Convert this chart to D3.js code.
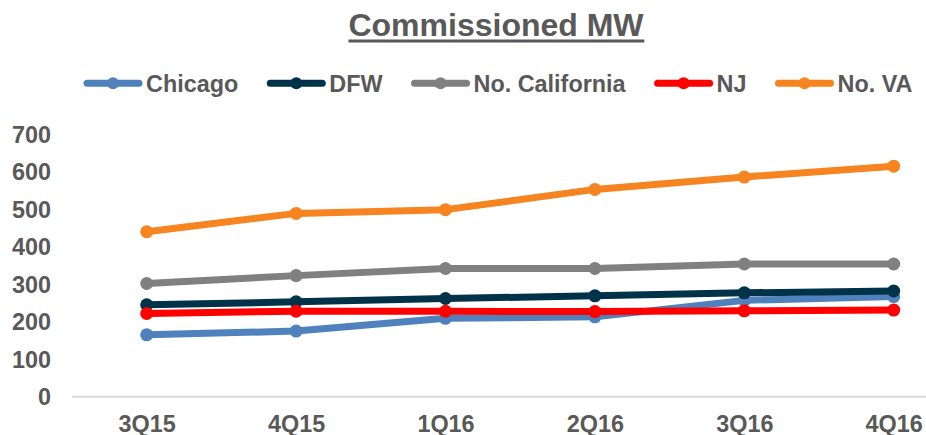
<!DOCTYPE html>
<html>
<head>
<meta charset="utf-8">
<script src="https://cdn.jsdelivr.net/npm/d3@7/dist/d3.min.js"></script>
<style>
  html, body { margin: 0; padding: 0; background: #fff; }
  svg { display: block; font-family: Arial, "Liberation Sans", sans-serif; }
</style>
</head>
<body>
<svg id="main-svg" width="926" height="435"></svg>
<script>
(function() {

    // quarters on the x axis
    var quarters = ["3Q15", "4Q15", "1Q16", "2Q16", "3Q16", "4Q16"];

    // y axis ticks
    var yTicks = [0, 100, 200, 300, 400, 500, 600, 700];

    // series values, MW
    var chicago = [165, 175, 209, 213, 257, 267];
    var dfw     = [245, 253, 262, 269, 277, 282];
    var noCal   = [302, 323, 342, 342, 354, 354];
    var nj      = [222, 228, 228, 227, 229, 231];
    var noVa    = [440, 489, 499, 553, 586, 615];

    var seriesNames = ["Chicago", "DFW", "No. California", "NJ", "No. VA"];
    var seriesColors = ["#4f81bd", "#003349", "#808080", "#ff0000", "#f68420"];
    var seriesValues = [chicago, dfw, noCal, nj, noVa];

    var series = seriesNames.map(function(name, i) {
        return { name: name, color: seriesColors[i], values: seriesValues[i] };
    });

    var textColor = "#595959";
    var fontSize = 23.4;
    var svg = d3.select("#main-svg");

    // title
    var title = svg.append("text")
    .attr("x", 496)
    .attr("y", 36)
    .attr("text-anchor", "middle")
    .attr("font-size", 32)
    .attr("font-weight", "bold")
    .attr("fill", textColor)
    .text("Commissioned MW");

    var tb = title.node().getBBox();
    svg.append("rect")
    .attr("x", tb.x)
    .attr("y", 39.5)
    .attr("width", tb.width)
    .attr("height", 3)
    .attr("fill", textColor);

    // scales
    var x = d3.scalePoint()
    .domain(quarters)
    .range([146.7, 893.7]);

    var y = d3.scaleLinear()
    .domain([0, 700])
    .range([396.7, 134.3]);

    // y axis labels
    var yAxis = d3.axisLeft(y).tickValues(yTicks).tickSize(0).tickPadding(0);
    var yG = svg.append("g")
    .attr("transform", "translate(51,0)")
    .call(yAxis);
    yG.select(".domain").remove();
    yG.selectAll("text")
    .attr("fill", textColor)
    .attr("font-size", fontSize)
    .attr("font-weight", "bold")
    .attr("font-family", "Arial, 'Liberation Sans', sans-serif")
    .attr("dy", "0.35em");

    // x axis
    svg.append("line")
    .attr("x1", 72)
    .attr("x2", 926)
    .attr("y1", y(0))
    .attr("y2", y(0))
    .attr("stroke", "#d9d9d9")
    .attr("stroke-width", 2);

    var xAxis = d3.axisBottom(x).tickSize(0).tickPadding(0);
    var xG = svg.append("g")
    .attr("transform", "translate(0,415.5)")
    .call(xAxis);
    xG.select(".domain").remove();
    xG.selectAll("text")
    .attr("fill", textColor)
    .attr("font-size", fontSize)
    .attr("font-weight", "bold")
    .attr("font-family", "Arial, 'Liberation Sans', sans-serif")
    .attr("dy", "0.71em");

    // lines
    var line = d3.line()
    .x(function(d, i) { return x(quarters[i]); })
    .y(function(d) { return y(d); });

    var sG = svg.selectAll(".series")
    .data(series)
    .enter()
    .append("g")
    .classed("series", true);

    sG.append("path")
    .attr("d", function(s) { return line(s.values); })
    .attr("fill", "none")
    .attr("stroke", function(s) { return s.color; })
    .attr("stroke-width", 7)
    .attr("stroke-linejoin", "round")
    .attr("stroke-linecap", "round");

    sG.each(function(s) {
        d3.select(this).selectAll("circle")
        .data(s.values)
        .enter()
        .append("circle")
        .attr("cx", function(d, i) { return x(quarters[i]); })
        .attr("cy", function(d) { return y(d); })
        .attr("r", 6.5)
        .attr("fill", s.color);
    });

    // legend
    var legendY = 83.3;
    var lx = 84;
    series.forEach(function(s) {
        var g = svg.append("g");
        g.append("line")
        .attr("x1", lx + 3)
        .attr("x2", lx + 55)
        .attr("y1", legendY)
        .attr("y2", legendY)
        .attr("stroke", s.color)
        .attr("stroke-width", 7)
        .attr("stroke-linecap", "round");
        g.append("circle")
        .attr("cx", lx + 29)
        .attr("cy", legendY)
        .attr("r", 6)
        .attr("fill", s.color);
        var t = g.append("text")
        .attr("x", lx + 62)
        .attr("y", legendY + 8.4)
        .attr("font-size", fontSize)
        .attr("font-weight", "bold")
        .attr("fill", textColor)
        .text(s.name);
        lx = lx + 62 + t.node().getComputedTextLength() + 29;
    });
})();
</script>
</body>
</html>
